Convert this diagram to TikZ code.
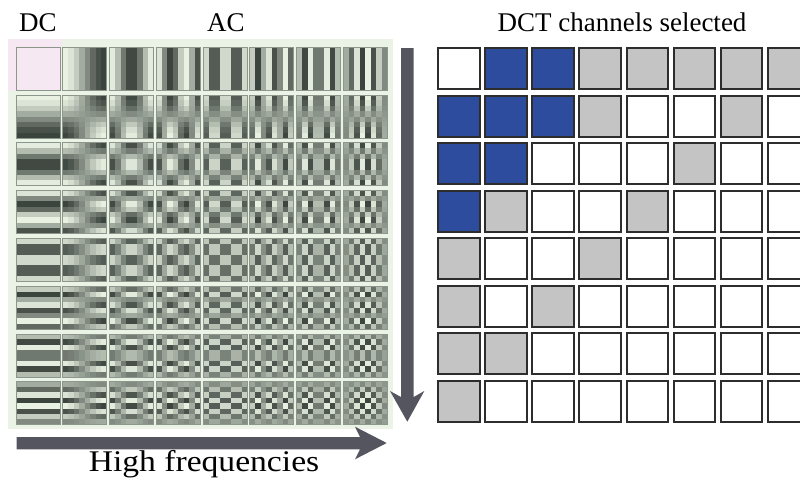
\documentclass[tikz,border=0pt]{standalone}
\usepackage{fontspec}
\setmainfont{Liberation Serif}
\definecolor{bgGreen}{RGB}{234,243,230}
\definecolor{dcPink}{RGB}{245,232,242}
\definecolor{darkPix}{RGB}{58,66,60}
\definecolor{lightPix}{RGB}{234,243,228}
\definecolor{basisEdge}{RGB}{140,150,138}
\definecolor{arrowGray}{RGB}{85,85,95}
\definecolor{selB}{RGB}{46,76,158}
\definecolor{selG}{RGB}{196,196,196}
\definecolor{selW}{RGB}{255,255,255}
\definecolor{cellEdge}{RGB}{45,45,45}
\tikzset{
  title/.style={anchor=base, inner sep=0pt, font=\fontsize{27}{32}\selectfont},
  bigtext/.style={anchor=base, inner sep=0pt, font=\fontsize{30}{36}\selectfont},
  basisbox/.style={draw=basisEdge, line width=0.8pt},
  selcell/.style={draw=cellEdge, line width=2pt},
  bigarrow/.style={fill=arrowGray},
}
\begin{document}
\begin{tikzpicture}[x=1pt,y=-1pt]
\useasboundingbox (0,0) rectangle (800,482);
\fill[white] (0,0) rectangle (800,482);
% left panel background
\fill[bgGreen] (8,39) rectangle (393,429);
\fill[dcPink] (8,39) rectangle (62,91);
% DCT basis images
\foreach \v in {0,...,7}{
  \foreach \u in {0,...,7}{
    \pgfmathsetmacro{\cx}{16+\u*46.75}
    \pgfmathsetmacro{\cy}{47.3+\v*47.77}
    \foreach \px in {0,...,7}{
      \foreach \py in {0,...,7}{
        \pgfmathsetmacro{\val}{cos((2*\px+1)*\u*11.25)*cos((2*\py+1)*\v*11.25)}
        \pgfmathsetmacro{\pc}{50+50*\val}
        \fill[lightPix!\pc!darkPix] (\cx+\px*5.5,\cy+\py*5.375) rectangle ++(5.6,5.45);
      }
    }
    \draw[basisbox] (\cx,\cy) rectangle ++(44,43);
  }
}
% DC cell highlighted
\fill[dcPink] (16,47.3) rectangle ++(44,43);
\draw[basisbox] (16,47.3) rectangle ++(44,43);
% arrows
\coordinate (vtop) at (401,48);
\coordinate (vtip) at (407.3,421.7);
\fill[bigarrow] (vtop) -- (413.7,48) -- (413.7,397) -- (424.3,391) -- (vtip) -- (390,391) -- (401,397) -- cycle;
\coordinate (hstart) at (16.7,437);
\coordinate (htip) at (386.7,443);
\fill[bigarrow] (hstart) -- (360,437) -- (355,426.7) -- (htip) -- (355,459.3) -- (360,449.3) -- (16.7,449.3) -- cycle;
% titles
\node[title] (dc) at (38,31) {DC};
\node[title] (ac) at (226,31) {AC};
\node[title] (sel) at (622,31) {DCT channels selected};
\node[bigtext] (hf) at (204,471.7) {\scalebox{1.12}[1]{High frequencies}};
% selected DCT channels grid
\foreach \row [count=\i from 0] in {
  {W,B,B,G,G,G,G,G},
  {B,B,B,G,W,W,G,W},
  {B,B,W,W,W,G,W,W},
  {B,G,W,W,G,W,W,W},
  {G,W,W,G,W,W,W,W},
  {G,W,G,W,W,W,W,W},
  {G,G,W,W,W,W,W,W},
  {G,W,W,W,W,W,W,W}}{
  \foreach \s [count=\j from 0] in \row {
    \pgfmathsetmacro{\rx}{437.3+\j*47.06}
    \pgfmathsetmacro{\ry}{47.3+\i*47.5}
    \draw[selcell, fill=sel\s] (\rx+1,\ry+1) rectangle ++(41.5,41);
  }
}
\end{tikzpicture}
\end{document}
